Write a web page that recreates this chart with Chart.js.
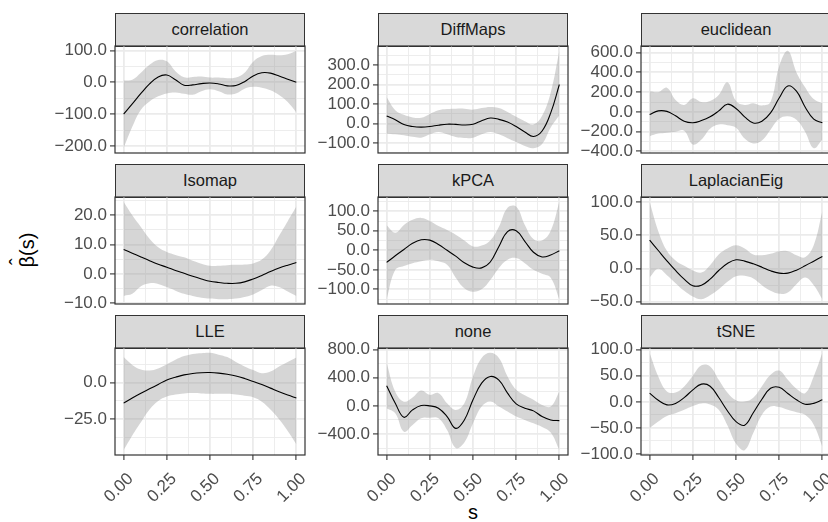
<!DOCTYPE html>
<html>
<head>
<meta charset="utf-8">
<script src="https://cdn.jsdelivr.net/npm/chart.js@4.4.1/dist/chart.umd.min.js"></script>
<style>
  body { margin: 0; background: #fff; }
  #wrap { position: relative; width: 828px; height: 522px; overflow: hidden; font-family: "Liberation Sans", Arial, sans-serif; }
  .strip { position: absolute; box-sizing: border-box; border: 1px solid #333; background: #d9d9d9; color: #1a1a1a; font-size: 16.5px; text-align: center; line-height: 31px; }
  canvas { position: absolute; }
  #ytitle { position: absolute; left: 27px; top: 250px; transform: translate(-50%, -50%) rotate(-90deg); font-size: 20px; line-height: 24px; color: #000; white-space: nowrap; }
  #ytitle .hat { position: relative; display: inline-block; }
  #ytitle .hat span { position: absolute; left: 0; right: 0; top: -0.5em; text-align: center; }
  #xtitle { position: absolute; left: 473px; top: 500px; transform: translateX(-50%); font-size: 20px; line-height: 24px; color: #000; }
</style>
</head>
<body>
<div id="wrap">
  <div id="ytitle"><span class="hat">β<span>ˆ</span></span>(s)</div>
  <div id="xtitle">s</div>
</div>
<script>
// grid of s values shared by every panel
const s = [0, 0.05, 0.1, 0.15, 0.2, 0.25, 0.3, 0.35, 0.4, 0.45, 0.5, 0.55, 0.6, 0.65, 0.7, 0.75, 0.8, 0.85, 0.9, 0.95, 1];
const xBreaks = [0, 0.25, 0.5, 0.75, 1];
const xLabels = ['0.00', '0.25', '0.50', '0.75', '1.00'];

const corrFit = [-100, -68, -35, -5, 17, 23, 8, -9, -8, -4, -2, -5, -11, -10, 2, 20, 30, 29, 20, 10, 0];
const corrHi = [6, 8, 30, 55, 70, 66, 35, 16, 17, 18, 15, 15, 13, 15, 30, 65, 83, 87, 85, 88, 99];
const corrLo = [-207, -140, -86, -60, -44, -35, -32, -36, -39, -28, -22, -28, -38, -35, -20, -14, -17, -25, -40, -62, -95];
const corrBreaks = [-200, -100, 0, 100];

const diffFit = [39, 20, -5, -15, -18, -15, -8, -3, -4, -7, -3, 15, 29, 22, 8, -15, -43, -66, -38, 55, 201];
const diffHi = [137, 69, 45, 32, 30, 50, 69, 75, 77, 77, 72, 80, 86, 80, 60, 35, 12, -5, 40, 160, 374];
const diffLo = [-52, -55, -60, -68, -72, -55, -43, -55, -69, -74, -72, -55, -43, -55, -75, -95, -115, -126, -105, -20, 43];
const diffBreaks = [-100, 0, 100, 200, 300];

const eucFit = [-27, 10, 5, -40, -95, -110, -88, -50, 10, 78, 35, -50, -112, -95, -10, 140, 262, 210, 50, -73, -111];
const eucHi = [208, 200, 245, 121, 71, 138, 100, 110, 170, 299, 110, 70, 88, 65, 100, 461, 618, 400, 250, 130, 88];
const eucLo = [-246, -220, -210, -200, -190, -330, -280, -170, -128, -135, -160, -270, -320, -290, -180, -70, -44, -80, -200, -367, -279];
const eucBreaks = [-400, -200, 0, 200, 400, 600];

const isoFit = [8.35, 7.1, 5.8, 4.5, 3.3, 2.3, 1.2, 0.2, -0.8, -1.7, -2.5, -2.9, -3.2, -3.2, -2.7, -1.7, -0.5, 0.8, 2.0, 3.0, 3.9];
const isoHi = [24.6, 20, 16, 12, 9.1, 7.5, 6.5, 5.7, 4.5, 3.5, 2.8, 2.8, 3.0, 3.1, 3.2, 3.6, 4.9, 8, 13, 18, 23];
const isoLo = [-7.5, -6.8, -4.2, -3.2, -3.4, -4.5, -5.7, -6.8, -7.5, -8.1, -8.4, -8.6, -8.6, -8.4, -7.9, -7.0, -5.5, -4.0, -4.5, -6, -7.5];
const isoBreaks = [-10, 0, 10, 20];

const kpcaFit = [-31, -14, 2, 18, 27, 26, 15, 0, -15, -32, -43, -45, -30, 10, 48, 50, 23, -5, -17, -12, -1];
const kpcaHi = [64, 45, 65, 78, 83, 75, 62, 52, 40, 25, 10, 12, 25, 60, 109, 112, 65, 29, 25, 50, 124];
const kpcaLo = [-125, -50, -40, -33, -28, -24, -28, -37, -70, -97, -106, -100, -76, -45, -24, -20, -33, -50, -60, -70, -125];
const kpcaBreaks = [-100, -50, 0, 50, 100];

const lapFit = [42.6, 27, 11.5, -3, -16, -26, -25, -16, -3, 7.5, 13, 11, 7, 2, -3.5, -7, -7, -2.5, 4, 11, 18];
const lapHi = [100, 56, 26.5, 12, 4, -3, -6, 5, 21, 30, 35, 30, 21, 20, 22, 26, 26, 20, 17, 35, 86];
const lapLo = [-13.5, -0.5, -10, -22, -33.5, -42, -46, -40, -31, -20, -11.5, -11, -15, -25, -33.5, -38, -36, -23.5, -13.5, -25, -46];
const lapBreaks = [-50, 0, 50, 100];

const lleFit = [-14, -10.5, -7.3, -4.3, -1.3, 1.8, 3.6, 5.2, 6.2, 6.7, 6.8, 6.4, 5.6, 4.5, 2.8, 0.7, -1.3, -3.8, -6.3, -8.5, -10.5];
const lleHi = [17.3, 12, 8.8, 8.2, 9.6, 12.5, 15.5, 18, 19.5, 20, 20.2, 19, 17.3, 14, 11, 8.5, 6.4, 7.5, 11, 14, 17];
const lleLo = [-46, -36, -27, -18.3, -12.5, -9.5, -8.2, -7.5, -7.2, -7.4, -7.7, -7.7, -7.7, -8.2, -9, -10, -13, -18.3, -25, -33, -42];
const lleBreaks = [-25, 0];

const noneFit = [286, 38, -162, -57, 5, 0, -33, -152, -320, -200, 86, 324, 419, 367, 181, 28, -33, -71, -152, -200, -210];
const noneHi = [610, 200, 60, 120, 219, 157, 181, 38, -57, 38, 419, 681, 755, 681, 419, 229, 150, 86, 14, -10, 205];
const noneLo = [-33, -105, -367, -271, -176, -170, -176, -343, -600, -520, -248, -10, 62, -10, -81, -152, -200, -248, -300, -380, -630];
const noneBreaks = [-400, 0, 400, 800];

const tsneFit = [16.7, 3, -5.8, -3, 8, 23, 34, 30, 8.3, -17, -38, -45, -21, 5, 26, 28, 16, 4, -4.5, -3, 3.8];
const tsneHi = [93.6, 48.7, 20, 18, 29.5, 50, 70, 68, 42.3, 18, 3, 0.6, 8, 30, 52, 60, 42.3, 25, 16.7, 48.7, 94];
const tsneLo = [-50.6, -37.8, -27, -22, -15.4, -8, -3, -5, -15.4, -45, -80, -92.7, -60, -25, -9, -10, -15.4, -20, -25, -44, -86];
const tsneBreaks = [-100, -50, 0, 50, 100];

const facets = [
  { name: 'correlation', fit: corrFit, hi: corrHi, lo: corrLo, breaks: corrBreaks },
  { name: 'DiffMaps', fit: diffFit, hi: diffHi, lo: diffLo, breaks: diffBreaks },
  { name: 'euclidean', fit: eucFit, hi: eucHi, lo: eucLo, breaks: eucBreaks },
  { name: 'Isomap', fit: isoFit, hi: isoHi, lo: isoLo, breaks: isoBreaks },
  { name: 'kPCA', fit: kpcaFit, hi: kpcaHi, lo: kpcaLo, breaks: kpcaBreaks },
  { name: 'LaplacianEig', fit: lapFit, hi: lapHi, lo: lapLo, breaks: lapBreaks },
  { name: 'LLE', fit: lleFit, hi: lleHi, lo: lleLo, breaks: lleBreaks },
  { name: 'none', fit: noneFit, hi: noneHi, lo: noneLo, breaks: noneBreaks },
  { name: 'tSNE', fit: tsneFit, hi: tsneHi, lo: tsneLo, breaks: tsneBreaks },
];

// panel geometry
const colLeft = [115, 378, 641];
const rowTop = [46, 197, 348];
const PW = 190, PH = 107, AXW = 72, PAD = 24, RPAD = 36, XH = 55, STRIP = 33;

Chart.defaults.font.family = '"Liberation Sans", Arial, sans-serif';

const frame = {
  id: 'frame',
  afterDraw(c) {
    const a = c.chartArea, g = c.ctx;
    g.save();
    g.strokeStyle = '#333';
    g.lineWidth = 1.2;
    g.strokeRect(a.left, a.top, a.right - a.left, a.bottom - a.top);
    g.restore();
  }
};

// ggplot style minor breaks: midpoints of the (extended) major breaks
function minors(br, lo, hi) {
  const step = br[1] - br[0];
  const out = [];
  for (let v = br[0] - step / 2; v <= br[br.length - 1] + step; v += step) {
    if (v > lo && v < hi) out.push(v);
  }
  return out;
}

function fmtY(v) {
  return v.toFixed(1).replace('-', '\u2212');
}

const xMin = s[0] - 0.05 * (s[s.length - 1] - s[0]);
const xMax = s[s.length - 1] + 0.05 * (s[s.length - 1] - s[0]);
const xMinor = minors(xBreaks, xMin, xMax);

const wrap = document.getElementById('wrap');
const toXY = arr => arr.map((v, i) => ({ x: s[i], y: v }));

facets.forEach((f, k) => {
  const col = k % 3, row = Math.floor(k / 3);
  const bottom = row === 2;
  const left = colLeft[col], top = rowTop[row];

  const strip = document.createElement('div');
  strip.className = 'strip';
  strip.style.left = left + 'px';
  strip.style.top = (top - STRIP) + 'px';
  strip.style.width = PW + 'px';
  strip.style.height = (STRIP + 1) + 'px';
  strip.textContent = f.name;
  wrap.appendChild(strip);

  const W = AXW + PW + RPAD;
  const H = PAD + PH + (bottom ? XH : PAD);
  const cv = document.createElement('canvas');
  cv.width = W; cv.height = H;
  cv.style.left = (left - AXW) + 'px';
  cv.style.top = (top - PAD) + 'px';
  cv.style.width = W + 'px'; cv.style.height = H + 'px';
  wrap.appendChild(cv);

  const lo = Math.min(...f.lo), hi = Math.max(...f.hi);
  const yMin = lo - 0.05 * (hi - lo), yMax = hi + 0.05 * (hi - lo);
  const yMinor = minors(f.breaks, yMin, yMax);

  const gridOpts = {
    color: '#ebebeb',
    lineWidth: c => (c.tick && c.tick.minorLine ? 0.9 : 1.8),
    tickColor: c => (c.tick && c.tick.minorLine ? 'rgba(0,0,0,0)' : '#333'),
    tickWidth: 1.1,
    tickLength: 5
  };

  new Chart(cv, {
    type: 'line',
    data: {
      datasets: [
        { data: toXY(f.fit), borderColor: '#000', borderWidth: 1.1, pointRadius: 0, tension: 0.4, fill: false },
        { data: toXY(f.lo), borderColor: 'rgba(0,0,0,0)', borderWidth: 0, pointRadius: 0, tension: 0.4, fill: false },
        { data: toXY(f.hi), borderColor: 'rgba(0,0,0,0)', borderWidth: 0, pointRadius: 0, tension: 0.4, fill: 1, backgroundColor: 'rgba(153,153,153,0.4)' }
      ]
    },
    options: {
      responsive: false,
      animation: false,
      events: [],
      layout: { padding: { left: 0, right: RPAD, top: PAD, bottom: bottom ? 0 : PAD } },
      plugins: { legend: { display: false }, tooltip: { enabled: false } },
      scales: {
        x: {
          type: 'linear', min: xMin, max: xMax,
          border: { display: false },
          grid: Object.assign({ drawTicks: bottom }, gridOpts),
          afterBuildTicks: sc => {
            sc.ticks = xBreaks.map(v => ({ value: v })).concat(xMinor.map(v => ({ value: v, minorLine: true })))
              .sort((a, b) => a.value - b.value);
          },
          afterFit: sc => { sc.height = bottom ? XH : 0; },
          ticks: {
            display: bottom, autoSkip: false, maxRotation: 45, minRotation: 45,
            color: '#4d4d4d', font: { size: 17 }, padding: 9, labelOffset: 7,
            callback: (v, i, t) => (t[i].minorLine ? '' : xLabels[xBreaks.indexOf(v)])
          }
        },
        y: {
          type: 'linear', min: yMin, max: yMax,
          border: { display: false },
          grid: gridOpts,
          afterBuildTicks: sc => {
            sc.ticks = f.breaks.filter(v => v >= yMin && v <= yMax).map(v => ({ value: v }))
              .concat(yMinor.map(v => ({ value: v, minorLine: true })))
              .sort((a, b) => a.value - b.value);
          },
          afterFit: sc => { sc.width = AXW; },
          ticks: {
            autoSkip: false, color: '#4d4d4d', font: { size: 17 }, padding: 3,
            callback: (v, i, t) => (t[i].minorLine ? '' : fmtY(v))
          }
        }
      }
    },
    plugins: [frame]
  });
});
</script>
</body>
</html>
